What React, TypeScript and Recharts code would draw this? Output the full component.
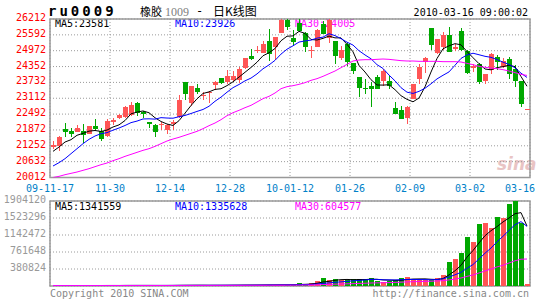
import React from 'react';
import { ComposedChart, Bar, Line, XAxis, YAxis, CartesianGrid, ReferenceArea } from 'recharts';

const xLabels = ['09-11-17', '11-30', '12-14', '12-28', '10-01-12', '01-26', '02-09', '03-02', '03-16'];
const xTicks = [0, 10, 20, 30, 40, 50, 60, 70, 80];
const priceTicks = [20012, 20632, 21252, 21872, 22492, 23112, 23732, 24352, 24972, 25592, 26212];
const volumeTicks = [0, 380824, 761648, 1142472, 1523296, 1904120];

const opens = [
  21191, 21230, 21909, 21843, 21791, 21830, 21726, 22039, 21830, 21622,
  22182, 22352, 22378, 22443, 22926, 22587, 22169, 22052, 22065, 21857,
  22091, 22378, 23734, 22926, 23525, 23200, 23317, 23643, 23891, 23747,
  23812, 23812, 24295, 24764, 24947, 24895, 25351, 25116, 25677, 26186,
  25482, 26055, 25664, 24960, 25116, 26029, 25482, 25351, 24699, 25221,
  24503, 23943, 23526, 23591, 23943, 23786, 23786, 22743, 22665, 22339,
  23095, 23851, 24530, 25860, 24882, 25116, 25599, 25025, 25742, 24947,
  24308, 24464, 23786, 24204, 24725, 24334, 24634, 24269, 23786, 22690,
];
const highs = [
  21439, 21622, 22143, 21935, 22078, 22091, 22039, 22300, 21948, 22313,
  22339, 22508, 22821, 22952, 22952, 22613, 22169, 22091, 22169, 22117,
  22248, 23226, 23734, 23591, 23656, 23356, 23395, 23786, 23891, 24204,
  24165, 24334, 24699, 25025, 25155, 25351, 25808, 25508, 26212, 26212,
  25794, 26200, 25703, 25142, 25834, 26150, 26212, 25351, 25142, 25312,
  24503, 23943, 23878, 23747, 24034, 24269, 23969, 22965, 22795, 22795,
  23682, 24464, 24725, 25860, 25442, 25703, 25899, 25247, 25873, 24986,
  24464, 24491, 24073, 24882, 24790, 24699, 24725, 24399, 23786, 22700,
];
const lows = [
  21126, 21048, 21596, 21596, 21778, 21361, 21700, 21830, 21439, 21596,
  22052, 22313, 22352, 22430, 22417, 22352, 21961, 21596, 21883, 21700,
  21883, 22352, 23056, 22795, 23291, 23056, 22926, 23447, 23682, 23682,
  23747, 23708, 24269, 24621, 24882, 24882, 24556, 24595, 25677, 25768,
  25142, 25703, 24921, 24699, 25116, 25612, 25273, 24464, 24621, 24360,
  24073, 23160, 23291, 22769, 23460, 23591, 23486, 22482, 22313, 22091,
  23069, 23682, 24112, 24986, 24856, 24986, 24921, 24947, 24960, 24073,
  24138, 23682, 23682, 24047, 24204, 24308, 23878, 23552, 22769, 22680,
];
const closes = [
  21283, 21596, 21791, 21713, 21935, 21661, 22026, 21922, 21517, 22208,
  22261, 22443, 22769, 22834, 22547, 22482, 22091, 21791, 22104, 22052,
  22196, 23030, 23265, 23591, 23369, 23239, 23343, 23747, 23721, 23982,
  23982, 24269, 24686, 24660, 25012, 25247, 24856, 25508, 26180, 25899,
  25312, 25742, 25116, 24986, 25794, 25638, 26186, 24764, 24986, 24530,
  24177, 23526, 23473, 23486, 23486, 24165, 23591, 22508, 22313, 22769,
  23682, 24334, 24699, 25208, 25416, 25573, 24921, 25116, 24986, 24099,
  24373, 23747, 24073, 24829, 24530, 24556, 24047, 23773, 22900, 22690,
];
const ma5 = [
  21035, 21204, 21400, 21491, 21664, 21739, 21825, 21851, 21812, 21867,
  21987, 22070, 22240, 22503, 22571, 22615, 22545, 22349, 22203, 22104,
  22047, 22235, 22529, 22827, 23090, 23299, 23361, 23458, 23484, 23606,
  23755, 23940, 24128, 24316, 24522, 24775, 24892, 25057, 25361, 25538,
  25551, 25728, 25650, 25411, 25390, 25455, 25544, 25474, 25474, 25221,
  24929, 24397, 24138, 23838, 23630, 23627, 23640, 23447, 23213, 23069,
  22973, 23121, 23559, 24138, 24668, 25046, 25163, 25247, 25202, 24939,
  24699, 24464, 24256, 24224, 24310, 24347, 24407, 24347, 23961, 23581,
];
const ma10 = [
  20461, 20592, 20748, 20944, 21139, 21335, 21504, 21635, 21726, 21766,
  21863, 21948, 22046, 22158, 22219, 22301, 22308, 22295, 22353, 22338,
  22331, 22390, 22439, 22515, 22597, 22673, 22798, 22994, 23156, 23348,
  23527, 23651, 23793, 23900, 24064, 24265, 24416, 24593, 24839, 25030,
  25163, 25310, 25354, 25386, 25464, 25503, 25636, 25562, 25443, 25306,
  25192, 24971, 24806, 24656, 24426, 24278, 24019, 23793, 23526, 23350,
  23300, 23381, 23503, 23676, 23869, 24010, 24142, 24403, 24670, 24804,
  24873, 24814, 24752, 24713, 24625, 24523, 24436, 24302, 24093, 23926,
];
const ma30 = [
  20012, 20057, 20122, 20174, 20226, 20292, 20357, 20435, 20513, 20578,
  20670, 20748, 20839, 20917, 20996, 21074, 21139, 21230, 21335, 21439,
  21517, 21583, 21661, 21739, 21817, 21922, 22039, 22143, 22274, 22430,
  22547, 22639, 22743, 22834, 22965, 23095, 23186, 23317, 23486, 23565,
  23604, 23656, 23721, 23812, 23878, 23969, 24073, 24177, 24308, 24438,
  24569, 24608, 24621, 24621, 24634, 24647, 24634, 24608, 24582, 24569,
  24569, 24556, 24556, 24556, 24556, 24543, 24543, 24543, 24530, 24477,
  24425, 24360, 24321, 24295, 24269, 24230, 24177, 24112, 24047, 24005,
];
const volumes = [
  9000, 12000, 8000, 10000, 11000, 9000, 13000, 10000, 12000, 14000,
  11000, 12000, 15000, 13000, 14000, 12000, 11000, 13000, 12000, 14000,
  15000, 20000, 18000, 17000, 16000, 15000, 16000, 18000, 17000, 19000,
  20000, 22000, 24000, 21000, 23000, 25000, 28000, 26000, 30000, 27000,
  32000, 60000, 40000, 60000, 110000, 180000, 130000, 157000, 134000, 134000,
  150000, 150000, 150000, 179000, 120000, 85000, 120000, 134000, 179000, 202000,
  141000, 134000, 141000, 134000, 179000, 246000, 538000, 612000, 739000, 1098000,
  986000, 1390000, 1420000, 1300000, 1552000, 1514000, 1830000, 1904120, 1420000, 40000,
];
const volMa5 = [
  10000, 10000, 10000, 10000, 10000, 10000, 10200, 10600, 11000, 11600,
  12000, 11800, 12800, 13000, 13000, 13200, 13000, 12600, 12400, 12400,
  13000, 14800, 15800, 16800, 17200, 17200, 16400, 16400, 16400, 17000,
  18000, 19200, 20400, 21200, 22000, 23000, 24200, 24600, 26400, 27200,
  28600, 35000, 37800, 43800, 60400, 90000, 104000, 127400, 142200, 147000,
  141000, 145000, 143600, 152600, 149800, 136800, 130800, 127600, 127600, 144000,
  155200, 158000, 159400, 150400, 145800, 166800, 247600, 341800, 462800, 646600,
  794600, 965000, 1126600, 1238800, 1329600, 1435200, 1523200, 1620000, 1644000, 1341559,
];
const volMa10 = [
  10000, 10000, 10200, 10300, 10400, 10500, 10500, 10600, 10700, 10800,
  11000, 11000, 11700, 12000, 12300, 12600, 12400, 12700, 12700, 12700,
  13100, 13900, 14200, 14600, 14800, 15100, 15600, 16100, 16600, 17100,
  17600, 17800, 18400, 18800, 19500, 20500, 21700, 22500, 23800, 24600,
  25800, 29600, 31200, 35100, 43800, 59300, 69500, 82600, 93000, 103700,
  115500, 124500, 135500, 147400, 148400, 138900, 137900, 135600, 140100, 146900,
  146000, 144400, 143500, 139000, 144900, 161000, 202800, 250600, 306600, 396200,
  480700, 606300, 734200, 850800, 988100, 1114900, 1244100, 1373300, 1441400, 1335628,
];
const volMa30 = [
  10000, 10000, 10100, 10100, 10200, 10200, 10300, 10300, 10400, 10400,
  10500, 10500, 10600, 10700, 10800, 10900, 11000, 11100, 11200, 11300,
  11367, 11633, 12033, 12300, 12500, 12733, 12833, 13133, 13333, 13533,
  13900, 14233, 14767, 15133, 15533, 16067, 16567, 17100, 17700, 18133,
  18800, 20400, 21300, 22800, 26000, 31600, 35600, 40400, 44500, 48500,
  53000, 57300, 61700, 67100, 70600, 72900, 76400, 80200, 85600, 91700,
  95800, 99500, 103400, 107200, 112400, 119700, 136700, 156300, 179900, 215600,
  247400, 291700, 337700, 379100, 427100, 465000, 515000, 565000, 600000, 604577,
];

const RED = '#ff5555';
const GREEN = '#00a800';
const MONO = "'DejaVu Sans Mono', monospace";
const GRID = '#9a9a9a';

const data = opens.map((o, i) => ({
  x: i + 0.5,
  open: o,
  high: highs[i],
  low: lows[i],
  close: closes[i],
  range: [lows[i], highs[i]],
  ma5: ma5[i],
  ma10: ma10[i],
  ma30: ma30[i],
  vol: volumes[i],
  vma5: volMa5[i],
  vma10: volMa10[i],
  vma30: volMa30[i],
}));

const Candle = (props: any) => {
  const { x, y, width, height, payload } = props;
  if (!payload || x == null) return null;
  const { open, close, high, low } = payload;
  const color = close >= open ? RED : GREEN;
  const top = Math.min(y, y + height);
  const h = Math.abs(height);
  const ratio = high === low ? 0 : h / (high - low);
  const yOf = (v: number) => top + (high - v) * ratio;
  const cx = Math.floor(x + width / 2) + 0.5;
  const left = Math.round(x);
  const w = Math.round(width);
  const bTop = Math.round(yOf(Math.max(open, close)));
  const bBot = Math.round(yOf(Math.min(open, close)));
  return (
    <g>
      <line x1={cx} x2={cx} y1={Math.round(top)} y2={Math.round(top + h)} stroke={color} strokeWidth={1} />
      {bBot - bTop >= 1 ? (
        <rect x={left} y={bTop} width={w} height={bBot - bTop} fill={color} />
      ) : (
        <line x1={left} x2={left + w} y1={bTop + 0.5} y2={bTop + 0.5} stroke={color} strokeWidth={1} />
      )}
    </g>
  );
};

const VolBar = (props: any) => {
  const { x, y, width, height, payload } = props;
  if (!payload || x == null) return null;
  const color = payload.close >= payload.open ? RED : GREEN;
  const t = Math.round(y);
  const b = Math.round(y + height);
  return <rect x={Math.round(x)} y={t} width={Math.round(width)} height={Math.max(1, b - t)} fill={color} />;
};

const PriceTick = (props: any) => {
  const { x, y, payload } = props;
  return (
    <text x={x} y={y + 2} textAnchor="end" fill="#ff0000" fontSize={10} fontFamily={MONO}>
      {payload.value}
    </text>
  );
};

const VolTick = (props: any) => {
  const { x, y, payload } = props;
  if (payload.value === 0) return null;
  return (
    <text x={x} y={y + 2} textAnchor="end" fill="#999999" fontSize={10} fontFamily={MONO}>
      {payload.value}
    </text>
  );
};

const DateTick = (props: any) => {
  const { x, y, payload } = props;
  const idx = Math.round(payload.value / 10);
  const label = xLabels[idx];
  const shift = idx === xLabels.length - 1 ? -10 : 0;
  return (
    <text x={x + shift} y={y + 14} textAnchor="middle" fill="#0080c8" fontSize={10} fontFamily={MONO}>
      {label}
    </text>
  );
};

export default function App() {
  return (
    <div style={{ position: 'absolute', left: 0, top: 0, width: 545, height: 300, background: '#fff', overflow: 'hidden' }}>
      <svg width={545} height={300} style={{ position: 'absolute', left: 0, top: 0 }}>
        <text x={48} y={16} fontSize={14} fontWeight="bold" fontFamily={MONO} letterSpacing={3} fill="#000">ru0009</text>
        <text x={140} y={16} fontSize={11} fontFamily="'Noto Sans CJK SC', sans-serif" fill="#000">橡胶</text>
        <text x={165} y={16} fontSize={12} fontFamily="'Liberation Serif', serif" fill="#808080">1009</text>
        <text x={196} y={15} fontSize={12} fontFamily={MONO} fill="#000">-</text>
        <text x={213} y={16} fontSize={12} fontFamily="'Noto Sans CJK SC', sans-serif" fill="#000">日K线图</text>
        <text x={528} y={15.5} fontSize={10} fontFamily={MONO} textAnchor="end" fill="#000">2010-03-16 09:00:02</text>
        <text x={55} y={26.5} fontSize={10} fontFamily={MONO} fill="#000">MA5:23581</text>
        <text x={175} y={26.5} fontSize={10} fontFamily={MONO} fill="#0000ff">MA10:23926</text>
        <text x={295} y={26.5} fontSize={10} fontFamily={MONO} fill="#ff00ff">MA30:24005</text>
        <text x={55} y={210} fontSize={10} fontFamily={MONO} fill="#000">MA5:1341559</text>
        <text x={175} y={210} fontSize={10} fontFamily={MONO} fill="#0000ff">MA10:1335628</text>
        <text x={295} y={210} fontSize={10} fontFamily={MONO} fill="#ff00ff">MA30:604577</text>
        <text x={50} y={297} fontSize={10} fontFamily={MONO} fill="#888">Copyright 2010 SINA.COM</text>
        <text x={529} y={297} fontSize={10} fontFamily={MONO} textAnchor="end" fill="#888">http://finance.sina.com.cn</text>
        <text x={497} y={170} fontSize={17} fontStyle="italic" fontWeight="bold" fontFamily="'DejaVu Sans', sans-serif" fill="#e9c4c4">sina</text>
      </svg>

      <div style={{ position: 'absolute', left: 0, top: 0 }}>
        <ComposedChart width={545} height={200} data={data} margin={{ top: 19, right: 15, bottom: 0.5, left: 0 }}>
          <CartesianGrid stroke={GRID} strokeDasharray="1 2" />
          <XAxis
            dataKey="x"
            type="number"
            domain={[0, 80]}
            ticks={xTicks}
            interval={0}
            height={22}
            tickSize={0}
            tickMargin={0}
            axisLine={false}
            tickLine={false}
            tick={<DateTick />}
          />
          <YAxis
            type="number"
            domain={[20012, 26212]}
            ticks={priceTicks}
            interval={0}
            width={50}
            tickSize={0}
            tickMargin={4}
            axisLine={false}
            tickLine={false}
            allowDataOverflow
            tick={<PriceTick />}
          />
          <ReferenceArea x1={0} x2={80} y1={20012} y2={26212} fill="none" stroke="#999" strokeWidth={1.5} ifOverflow="visible" />
          <Bar dataKey="range" barSize={5} shape={<Candle />} isAnimationActive={false} />
          <Line type="linear" dataKey="ma5" stroke="#000000" strokeWidth={1} dot={false} isAnimationActive={false} />
          <Line type="linear" dataKey="ma10" stroke="#0000ff" strokeWidth={1} dot={false} isAnimationActive={false} />
          <Line type="linear" dataKey="ma30" stroke="#ff00ff" strokeWidth={1} dot={false} isAnimationActive={false} />
        </ComposedChart>
      </div>

      <div style={{ position: 'absolute', left: 0, top: 195 }}>
        <ComposedChart width={545} height={95} data={data} margin={{ top: 6, right: 15, bottom: 4, left: 0 }}>
          <CartesianGrid stroke={GRID} strokeDasharray="1 2" />
          <XAxis
            dataKey="x"
            type="number"
            domain={[0, 80]}
            ticks={xTicks}
            interval={0}
            height={0}
            tick={false}
            axisLine={false}
            tickLine={false}
          />
          <YAxis
            type="number"
            domain={[0, 1904120]}
            ticks={volumeTicks}
            interval={0}
            width={50}
            tickSize={0}
            tickMargin={4}
            axisLine={false}
            tickLine={false}
            allowDataOverflow
            tick={<VolTick />}
          />
          <ReferenceArea x1={0} x2={80} y1={0} y2={1904120} fill="none" stroke="#999" strokeWidth={1.5} ifOverflow="visible" />
          <Bar dataKey="vol" barSize={5} shape={<VolBar />} isAnimationActive={false} />
          <Line type="linear" dataKey="vma5" stroke="#000000" strokeWidth={1} dot={false} isAnimationActive={false} />
          <Line type="linear" dataKey="vma10" stroke="#0000ff" strokeWidth={1} dot={false} isAnimationActive={false} />
          <Line type="linear" dataKey="vma30" stroke="#ff00ff" strokeWidth={1} dot={false} isAnimationActive={false} />
        </ComposedChart>
      </div>
    </div>
  );
}
